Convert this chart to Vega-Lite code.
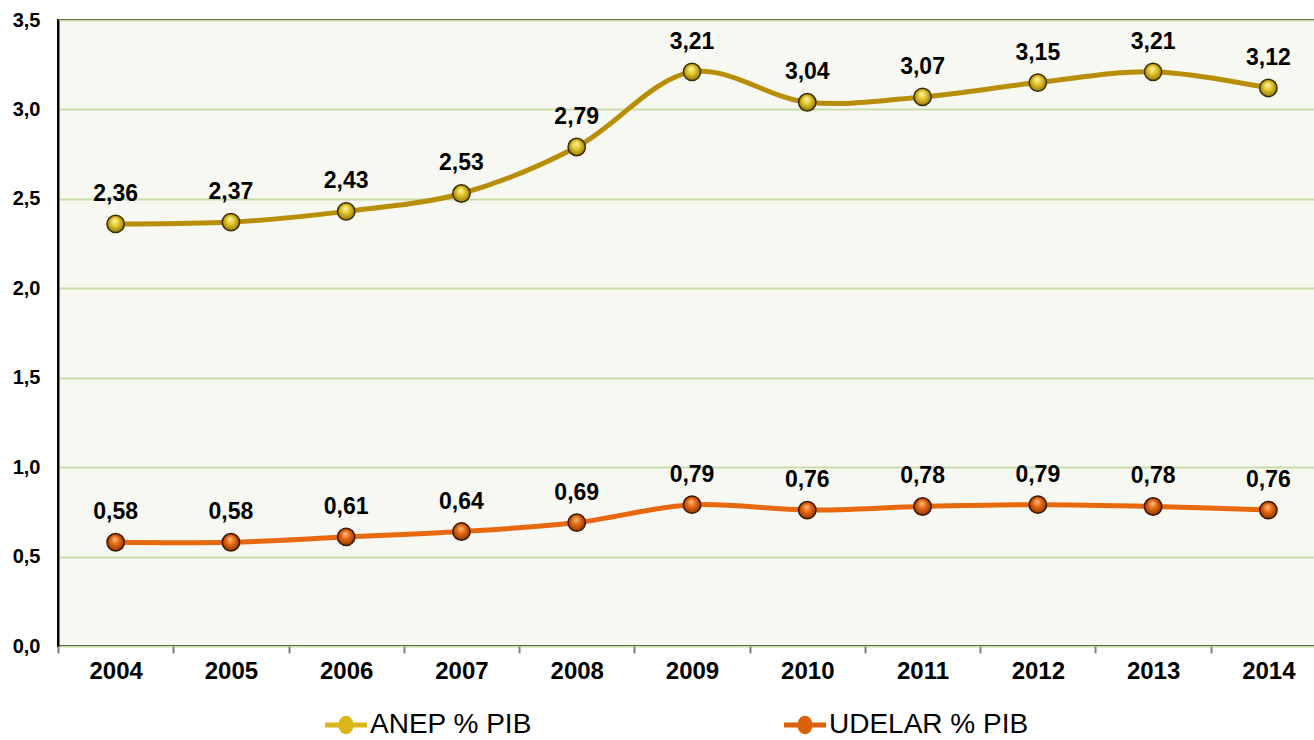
{
  "$schema": "https://vega.github.io/schema/vega-lite/v6.json",
  "width": 1258,
  "height": 626,
  "autosize": {"type": "none"},
  "padding": {"left": 58, "top": 20, "right": 0, "bottom": 94},
  "background": "#ffffff",
  "config": {
    "locale": {"number": {"decimal": ",", "thousands": ".", "grouping": [3], "currency": ["", ""]}},
    "view": {"fill": "#f8f8f3", "stroke": "#000000", "strokeWidth": 2},
    "font": "Liberation Sans"
  },
  "data": {
    "values": [
      {"year": "2004", "series": "ANEP % PIB", "value": 2.36},
      {"year": "2005", "series": "ANEP % PIB", "value": 2.37},
      {"year": "2006", "series": "ANEP % PIB", "value": 2.43},
      {"year": "2007", "series": "ANEP % PIB", "value": 2.53},
      {"year": "2008", "series": "ANEP % PIB", "value": 2.79},
      {"year": "2009", "series": "ANEP % PIB", "value": 3.21},
      {"year": "2010", "series": "ANEP % PIB", "value": 3.04},
      {"year": "2011", "series": "ANEP % PIB", "value": 3.07},
      {"year": "2012", "series": "ANEP % PIB", "value": 3.15},
      {"year": "2013", "series": "ANEP % PIB", "value": 3.21},
      {"year": "2014", "series": "ANEP % PIB", "value": 3.12},
      {"year": "2004", "series": "UDELAR % PIB", "value": 0.58},
      {"year": "2005", "series": "UDELAR % PIB", "value": 0.58},
      {"year": "2006", "series": "UDELAR % PIB", "value": 0.61},
      {"year": "2007", "series": "UDELAR % PIB", "value": 0.64},
      {"year": "2008", "series": "UDELAR % PIB", "value": 0.69},
      {"year": "2009", "series": "UDELAR % PIB", "value": 0.79},
      {"year": "2010", "series": "UDELAR % PIB", "value": 0.76},
      {"year": "2011", "series": "UDELAR % PIB", "value": 0.78},
      {"year": "2012", "series": "UDELAR % PIB", "value": 0.79},
      {"year": "2013", "series": "UDELAR % PIB", "value": 0.78},
      {"year": "2014", "series": "UDELAR % PIB", "value": 0.76}
    ]
  },
  "encoding": {
    "x": {
      "field": "year", "type": "ordinal",
      "scale": {"type": "band", "range": [0, 1268], "paddingInner": 0, "paddingOuter": 0},
      "axis": {
        "title": null, "labelAngle": 0, "domain": false,
        "tickBand": "extent", "ticks": true, "tickColor": "#808080", "tickWidth": 2, "tickSize": 7,
        "labelFont": "Liberation Sans", "labelFontSize": 24, "labelFontWeight": "bold", "labelColor": "#000000",
        "labelPadding": 6, "grid": false
      }
    },
    "y": {
      "field": "value", "type": "quantitative",
      "scale": {"domain": [0, 3.5], "nice": false},
      "axis": {
        "title": null, "values": [0, 0.5, 1, 1.5, 2, 2.5, 3, 3.5], "format": ".1f",
        "domain": true, "domainColor": "#000000", "domainWidth": 2, "ticks": false,
        "grid": true, "gridColor": "#c8dcaa", "gridWidth": 2,
        "labelFont": "Liberation Sans", "labelFontSize": 20, "labelFontWeight": "bold", "labelColor": "#000000",
        "labelPadding": 18
      }
    }
  },
  "layer": [
    {
      "mark": {"type": "line", "interpolate": "catmull-rom", "strokeWidth": 5},
      "encoding": {
        "color": {
          "field": "series", "type": "nominal",
          "scale": {"domain": ["ANEP % PIB", "UDELAR % PIB"], "range": ["#b88e06", "#e8680c"]},
          "legend": {
            "title": null, "orient": "none", "direction": "horizontal",
            "legendX": 267, "legendY": 684,
            "symbolType": "M -1 -0.12 L -0.3 -0.12 L -0.3 0.12 L -1 0.12 Z M 0.3 -0.12 L 1 -0.12 L 1 0.12 L 0.3 0.12 Z M -0.36 0 A 0.36 0.44 0 1 1 0.36 0 A 0.36 0.44 0 1 1 -0.36 0 Z",
            "symbolSize": 1764, "symbolStrokeWidth": 0,
            "labelFont": "Liberation Sans", "labelFontSize": 28, "labelColor": "#000000", "labelOffset": 3,
            "columnPadding": 252, "labelLimit": 400
          }
        }
      }
    },
    {
      "mark": {"type": "point", "filled": true, "size": 300, "strokeWidth": 0, "opacity": 1},
      "encoding": {
        "fill": {
          "field": "series", "type": "nominal",
          "scale": {"domain": ["ANEP % PIB", "UDELAR % PIB"], "range": ["#d8b818", "#dc600e"]},
          "legend": null
        }
      }
    },
    {
      "transform": [{"filter": "datum.series == 'ANEP % PIB'"}],
      "mark": {
        "type": "point", "filled": true, "size": 300, "strokeWidth": 1.5, "stroke": "#3a2e00", "opacity": 1,
        "fill": {"gradient": "radial", "x1": 0.45, "y1": 0.3, "r1": 0, "x2": 0.5, "y2": 0.5, "r2": 0.55,
          "stops": [{"offset": 0, "color": "#fff7b0"}, {"offset": 0.45, "color": "#e2c62a"}, {"offset": 1, "color": "#8c6e04"}]}
      }
    },
    {
      "transform": [{"filter": "datum.series == 'UDELAR % PIB'"}],
      "mark": {
        "type": "point", "filled": true, "size": 300, "strokeWidth": 1.5, "stroke": "#3a1800", "opacity": 1,
        "fill": {"gradient": "radial", "x1": 0.45, "y1": 0.3, "r1": 0, "x2": 0.5, "y2": 0.5, "r2": 0.55,
          "stops": [{"offset": 0, "color": "#ffc08a"}, {"offset": 0.45, "color": "#e66a12"}, {"offset": 1, "color": "#8a3000"}]}
      }
    },
    {
      "mark": {"type": "text", "dy": -30, "fontSize": 23, "fontWeight": "bold", "font": "Liberation Sans", "color": "#000000"},
      "encoding": {
        "text": {"field": "value", "type": "quantitative", "format": ".2f"}
      }
    }
  ]
}
